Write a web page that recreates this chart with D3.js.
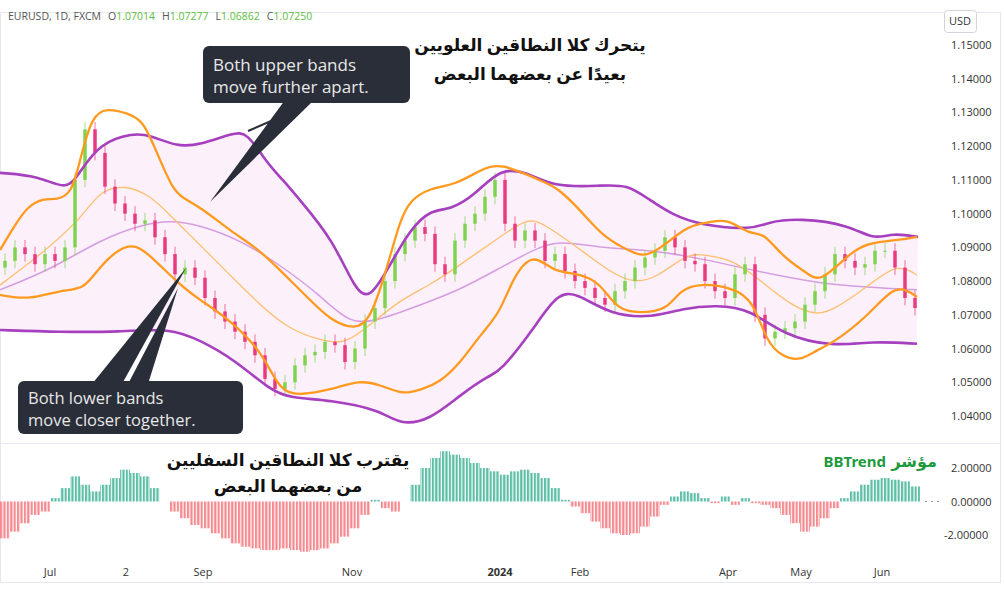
<!DOCTYPE html>
<html><head><meta charset="utf-8">
<script src="https://cdn.jsdelivr.net/npm/d3@7"></script>
<style>body{margin:0;background:#fff;font-family:"Open Sans",sans-serif}</style>
</head><body><svg id="c" width="1004" height="590"></svg>
<script>
// ---- data ----
const closes=[1.086,1.090,1.088,1.085,1.088,1.086,1.090,1.110,1.125,1.118,1.108,1.103,1.100,1.097,1.098,1.093,1.088,1.082,1.084,1.081,1.075,1.071,1.068,1.065,1.062,1.058,1.051,1.048,1.050,1.055,1.058,1.059,1.062,1.061,1.056,1.060,1.068,1.072,1.080,1.088,1.092,1.096,1.094,1.085,1.082,1.092,1.097,1.100,1.105,1.110,1.097,1.092,1.095,1.092,1.086,1.088,1.083,1.080,1.078,1.075,1.073,1.077,1.080,1.084,1.087,1.089,1.093,1.090,1.086,1.085,1.080,1.077,1.075,1.082,1.085,1.070,1.063,1.065,1.066,1.068,1.073,1.077,1.082,1.088,1.086,1.084,1.085,1.089,1.089,1.084,1.075,1.072];
const firstOpen=1.084;
const bbtrend=[-2.2,-1.8,-1.3,-0.8,-0.6,0.2,0.8,1.5,1.0,0.6,1.0,1.4,1.9,1.7,1.5,0.8,0,-0.6,-1.0,-1.4,-1.6,-1.9,-2.2,-2.5,-2.7,-2.8,-2.9,-2.9,-2.8,-2.9,-3.0,-2.9,-2.8,-2.5,-2.1,-1.6,-0.8,0.1,-0.4,-0.6,0.0,1.0,2.0,2.6,3.0,2.8,2.6,2.3,2.0,1.8,1.6,1.8,1.9,1.7,1.4,0.8,0.1,-0.3,-0.7,-1.2,-1.6,-1.9,-2.0,-1.9,-1.5,-0.9,-0.2,0.3,0.6,0.5,0.2,-0.1,0.3,-0.2,0.2,-0.1,-0.2,-0.4,-0.8,-1.3,-1.8,-1.5,-1.0,-0.4,0.2,0.6,1.0,1.3,1.4,1.3,1.2,0.9];
const puX=[0,10,16.75,20,25,33.25,37.5,44.25,50,58.25,61.75,66.75,70.75,75,83.25,88.75,92.5,97.5,102.5,107.5,112.5,118.75,125,131.75,138.25,150,156.75,162.5,168.25,175,188.25,191.75,200,212.5,218.25,223.25,229.5];
const puY=[1.1121,1.1112,1.1067,1.1124,1.1209,1.1239,1.1233,1.1198,1.1204,1.1239,1.1242,1.1150,1.1100,1.1040,1.0922,1.0774,1.0744,1.0848,1.0952,1.1011,1.1011,1.1055,1.1135,1.1124,1.1079,1.1082,1.1088,1.1040,1.0996,1.0966,1.0952,1.0975,1.0987,1.0966,1.0922,1.0943,1.0931];
const plX=[0,15,30,42.5,50,58.75,67.5,72.5,82.5,95,100,107.5,115,122.5,125,133.25,139.25,144.25,152.5,163.25,170.75,179.25,187.5,195.75,208.25,218.25,229.25];
const plY=[1.0655,1.0649,1.0649,1.0661,1.0625,1.0566,1.0477,1.0453,1.0448,1.0418,1.0373,1.0388,1.0462,1.0522,1.0531,1.0655,1.0765,1.0765,1.0700,1.0691,1.0720,1.0729,1.0717,1.0640,1.0605,1.0622,1.0614];
const pmX=[0,12.5,25,35,42.5,50,60,70,80,87.5,95,105,115,125,133.25,139.25,150,162.5,175,190,204.25,216.75,229.25];
const pmY=[1.0774,1.0833,1.0922,1.0966,1.0981,1.0966,1.0922,1.0848,1.0759,1.0670,1.0685,1.0729,1.0774,1.0839,1.0892,1.0922,1.0898,1.0892,1.0868,1.0827,1.0794,1.0782,1.0774];
const ouX=[0,3.75,6.75,10.75,14.25,18,20,23,26.75,31.75,35.75,39.25,43.25,45.75,50,58.25,64.25,70,77.5,82.5,88.75,92.5,96.25,100,102.5,107.5,113.75,120,125,135.75,139.25,145.75,150.75,158.25,162.5,171.75,176.75,181.75,187.5,190.75,195.75,201.75,205,212.5,216.75,225,229.25];
const ouY=[1.0892,1.0966,1.1020,1.1046,1.1040,1.1061,1.1159,1.1292,1.1313,1.1298,1.1278,1.1180,1.1070,1.1046,1.1020,1.0943,1.0898,1.0833,1.0744,1.0685,1.0655,1.0685,1.0818,1.0981,1.1040,1.1076,1.1085,1.1129,1.1153,1.1094,1.1079,1.1002,1.0931,1.0883,1.0868,1.0966,1.0972,1.0987,1.0937,1.0946,1.0871,1.0824,1.0794,1.0883,1.0913,1.0922,1.0931];
const olX=[0,7.5,15,21.25,25,32.5,37.5,45,50,57.5,65,68.75,71.25,75,82.5,90,95,100,102.5,105,110,115,120,125,128.25,133.25,138.25,144.25,150,154.25,160,166.75,170,175,183.25,188.25,191.75,195.75,200,204.25,208.25,216.75,223.25,226.75,229.25];
const olY=[1.0759,1.0744,1.0774,1.0774,1.0848,1.0922,1.0877,1.0788,1.0744,1.0685,1.0596,1.0507,1.0471,1.0462,1.0477,1.0507,1.0492,1.0468,1.0470,1.0477,1.0500,1.0556,1.0640,1.0705,1.0812,1.0886,1.0827,1.0824,1.0797,1.0714,1.0705,1.0714,1.0774,1.0794,1.0780,1.0744,1.0616,1.0575,1.0563,1.0596,1.0616,1.0694,1.0782,1.0774,1.0753];
const omX=[0,10,20,25,31.25,37.5,42.5,50,57.5,65,72.5,80,86.25,92.5,100,107.5,115,125,131.75,135.75,144.25,152.5,158.25,164.25,171.75,176.75,183.25,190,198.25,204.25,208.25,216.75,224.25,229.25];
const omY=[1.0788,1.0877,1.0981,1.1070,1.1085,1.1055,1.0996,1.0907,1.0818,1.0729,1.0655,1.0625,1.0611,1.0670,1.0744,1.0788,1.0848,1.0931,1.0987,1.0972,1.0901,1.0827,1.0794,1.0809,1.0883,1.0877,1.0863,1.0803,1.0723,1.0699,1.0714,1.0782,1.0854,1.0818];
const priceTicks=[1.04,1.05,1.06,1.07,1.08,1.09,1.10,1.11,1.12,1.13,1.14,1.15];
const trendTicks=[2,0,-2];
const xTickPos=[12.5,31.5,50.75,88,125,145,182,200.25,220.5];
const xTickLab=["Jul","2","Sep","Nov","2024","Feb","Apr","May","Jun"];

// ---- drawing ----
const svg=d3.select("#c");
const x=d3.scaleLinear().domain([0,230]).range([0,920]);
const y=d3.scaleLinear().domain([1.04,1.15]).range([416,45]);
const yt=d3.scaleLinear().domain([-2,2]).range([535,468]);
const defs=svg.append("defs");
const mkPat=(id,c)=>{const p=defs.append("pattern").attr("id",id).attr("patternUnits","userSpaceOnUse").attr("width",3.4).attr("height",10);
 p.append("rect").attr("width",2.2).attr("height",10).attr("fill",c);};
mkPat("pg","#5cbfa6");mkPat("pr","#f58a90");
defs.append("clipPath").attr("id","cm").append("rect").attr("x",0).attr("y",30).attr("width",938).attr("height",410);

svg.append("rect").attr("x",0.5).attr("y",12.5).attr("width",1000).attr("height",570).attr("fill","none").attr("stroke","#e6e8ef");
svg.append("line").attr("x1",0).attr("x2",1000).attr("y1",443.5).attr("y2",443.5).attr("stroke","#e6e8ef");

const g=svg.append("g").attr("clip-path","url(#cm)");
const pts=(X,Y)=>X.map((v,i)=>[x(v),y(Y[i])]);
const line=(X,Y)=>d3.line().curve(d3.curveBasis)(pts(X,Y));
const areaPath=line(puX,puY)+"L"+d3.line().curve(d3.curveBasis)(pts(plX,plY).reverse()).slice(1)+"Z";
g.append("path").attr("d",areaPath).attr("fill","#fcf0fb");
g.append("path").attr("d",line(pmX,pmY)).attr("fill","none").attr("stroke","#d49ee0").attr("stroke-width",1.5);
g.append("path").attr("d",line(omX,omY)).attr("fill","none").attr("stroke","#ffbf70").attr("stroke-width",1.3);

const cg=g.append("g");
closes.forEach((c,i)=>{
 const o=i?closes[i-1]:firstOpen, xi=x(1.25+2.5*i), up=c>=o;
 const col=up?"#7fd34e":"#ea3a7f";
 cg.append("line").attr("x1",xi).attr("x2",xi).attr("y1",y(Math.max(o,c)+0.0022)).attr("y2",y(Math.min(o,c)-0.0022)).attr("stroke",col).attr("stroke-width",1).attr("opacity",0.7);
 cg.append("rect").attr("x",xi-1.75).attr("width",3.5).attr("y",y(Math.max(o,c))).attr("height",Math.max(1,Math.abs(y(o)-y(c)))).attr("fill",col);
});
g.append("path").attr("d",line(puX,puY)).attr("fill","none").attr("stroke","#a640bf").attr("stroke-width",2.6);
g.append("path").attr("d",line(plX,plY)).attr("fill","none").attr("stroke","#a640bf").attr("stroke-width",2.6);
g.append("path").attr("d",line(ouX,ouY)).attr("fill","none").attr("stroke","#ff9a1f").attr("stroke-width",2.3);
g.append("path").attr("d",line(olX,olY)).attr("fill","none").attr("stroke","#ff9a1f").attr("stroke-width",2.3);

priceTicks.forEach(t=>svg.append("text").attr("x",951).attr("y",y(t)+4).attr("font-size",11).attr("fill","#333").text(t.toFixed(5)));
svg.append("rect").attr("x",944.5).attr("y",10.5).attr("width",32).attr("height",22).attr("rx",3).attr("fill","#fff").attr("stroke","#d1d4dc");
svg.append("text").attr("x",960).attr("y",25).attr("text-anchor","middle").attr("font-size",11).attr("fill","#333").text("USD");

const h=svg.append("text").attr("x",8).attr("y",20).attr("font-size",10.5).attr("fill","#555");
h.append("tspan").text("EURUSD, 1D, FXCM");
h.append("tspan").attr("dx",7).text("O");
[["1.07014","H"],["1.07277","L"],["1.06862","C"],["1.07250",""]].forEach(([v,n])=>{h.append("tspan").attr("fill","#5ebd3e").text(v);if(n)h.append("tspan").attr("dx",7).text(n);});

const hg=svg.append("g");
bbtrend.forEach((v,i)=>{const xi=x(1.25+2.5*i);
 hg.append("rect").attr("x",xi-5).attr("width",10).attr("y",Math.min(yt(v),yt(0))).attr("height",Math.abs(yt(v)-yt(0))).attr("fill",v>=0?"url(#pg)":"url(#pr)");});
trendTicks.forEach(t=>svg.append("text").attr("x",t<0?944:951).attr("y",yt(t)+4).attr("font-size",11).attr("fill","#333").text(t.toFixed(5)));
svg.append("line").attr("x1",925).attr("x2",940).attr("y1",yt(0)).attr("y2",yt(0)).attr("stroke","#999").attr("stroke-dasharray","2,4");

xTickLab.forEach((l,i)=>svg.append("text").attr("x",x(xTickPos[i])).attr("y",576).attr("text-anchor","middle").attr("font-size",11).attr("font-weight",l==="2024"?"bold":"normal").attr("fill","#333").text(l));

const ann=svg.append("g");
ann.append("polygon").attr("points","285,100 314,100 210,202").attr("fill","#2a2e39");
ann.append("line").attr("x1",292).attr("y1",112).attr("x2",248).attr("y2",131).attr("stroke","#2a2e39").attr("stroke-width",2);
ann.append("rect").attr("x",203).attr("y",46).attr("width",207).attr("height",57).attr("rx",6).attr("fill","#2a2e39");
ann.append("text").attr("x",213).attr("y",71).attr("font-size",17).attr("fill","#e8e8e8").text("Both upper bands");
ann.append("text").attr("x",213).attr("y",93).attr("font-size",17).attr("fill","#e8e8e8").text("move further apart.");
ann.append("polygon").attr("points","92,384 122,384 186,268").attr("fill","#2a2e39");
ann.append("polygon").attr("points","128,384 148,384 178,288").attr("fill","#2a2e39");
ann.append("rect").attr("x",18).attr("y",381).attr("width",225).attr("height",53).attr("rx",6).attr("fill","#2a2e39");
ann.append("text").attr("x",28).attr("y",404).attr("font-size",16.5).attr("fill","#e8e8e8").text("Both lower bands");
ann.append("text").attr("x",28).attr("y",426).attr("font-size",16.5).attr("fill","#e8e8e8").text("move closer together.");

const AF="'Noto Sans','DejaVu Sans',sans-serif";
const ar=(t,xx,yy)=>svg.append("text").attr("x",xx).attr("y",yy).attr("text-anchor","middle").attr("font-size",17).attr("font-weight","bold").attr("fill","#111").attr("font-family",AF).text(t);
ar("يتحرك كلا النطاقين العلويين",530,51);
ar("بعيدًا عن بعضهما البعض",530,80);
ar("يقترب كلا النطاقين السفليين",288,466);
ar("من بعضهما البعض",288,492);
svg.append("text").attr("x",937).attr("y",467).attr("text-anchor","end").attr("font-size",16).attr("font-weight","bold").attr("fill","#1e9a3e").attr("font-family",AF).text("مؤشر");
svg.append("text").attr("x",886).attr("y",467).attr("text-anchor","end").attr("font-size",15).attr("font-weight","bold").attr("fill","#1e9a3e").attr("font-family",AF).text("BBTrend");
</script></body></html>
